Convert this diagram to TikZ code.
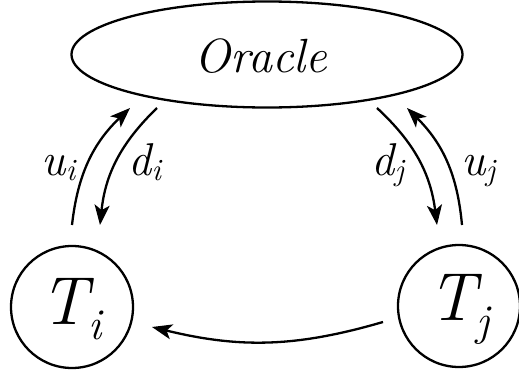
\documentclass[tikz,border=0pt]{standalone}
\usepackage{fontspec}
\usetikzlibrary{shapes.geometric,arrows.meta}
\newcommand{\lbl}[2]{{\fontsize{46}{46}\selectfont\itshape #1\kern0.5pt\raisebox{-5pt}{\fontsize{31}{31}\selectfont #2}}}
\newcommand{\tnd}[2]{{\fontsize{68}{68}\selectfont\itshape #1\kern0pt\raisebox{-15pt}{\fontsize{44}{44}\selectfont #2}}}
\begin{document}
\begin{tikzpicture}[x=1pt,y=-1pt,
  every node/.style={inner sep=0pt},
  conn/.style={line width=2.3pt,-{Stealth[length=20pt,width=15pt,inset=5pt]}},
  tnode/.style={circle,draw,line width=2.3pt,minimum size=122pt}]
\useasboundingbox (0,0) rectangle (519,375);
\node[ellipse,draw,line width=2.3pt,minimum width=391pt,minimum height=106pt] (oracle) at (267,54.5) {};
\node at (261,56) {\fontsize{48}{48}\selectfont\itshape Oracle};
\node[tnode] (ti) at (72,307) {};
\node[tnode] (tj) at (459,306) {};
\node at (71,309) {\tnd{T}{i}};
\node at (459,309) {\tnd{T}{j}};
\coordinate (ui0) at (72,225);
\coordinate (ui1) at (130,108);
\coordinate (di0) at (157,108);
\coordinate (di1) at (100,225);
\coordinate (dj0) at (377,108);
\coordinate (dj1) at (437,225);
\coordinate (uj0) at (462,225);
\coordinate (uj1) at (407,108);
\coordinate (b0) at (383,322);
\coordinate (b1) at (152,327);
\draw[conn] (ui0) to[bend left=20] (ui1);
\draw[conn] (di0) to[bend right=20] (di1);
\draw[conn] (dj0) to[bend left=20] (dj1);
\draw[conn] (uj0) to[bend right=20] (uj1);
\draw[conn] (b0) to[bend left=15] (b1);
\node[anchor=base west] (lui) at (41,175) {\lbl{u}{i}};
\node[anchor=base west] (ldi) at (128,175) {\lbl{d}{i}};
\node[anchor=base west] (ldj) at (371,175) {\lbl{d}{j}};
\node[anchor=base west] (luj) at (461,175) {\lbl{u}{j}};
\end{tikzpicture}
\end{document}
